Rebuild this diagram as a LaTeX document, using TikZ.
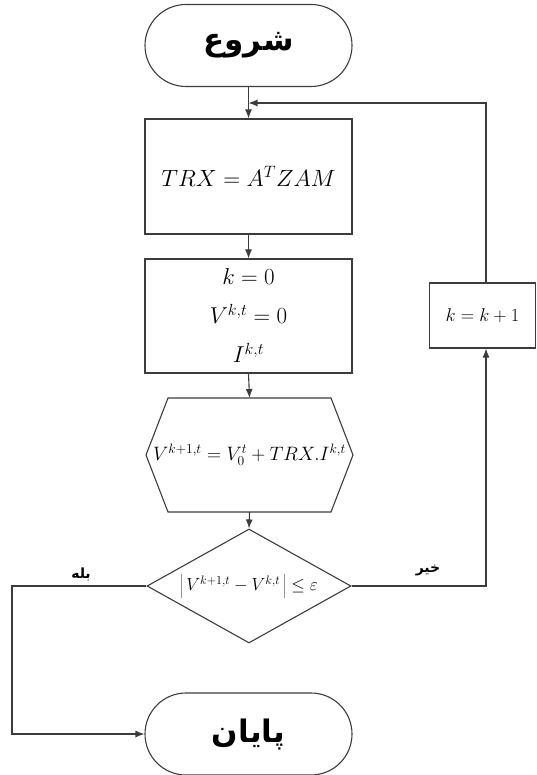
\RequirePackage{fix-cm}
\documentclass[tikz,border=0pt]{standalone}
\usepackage{fontspec}
\usetikzlibrary{shapes.misc,shapes.geometric,arrows.meta,calc}
\TeXXeTstate=1
\newfontfamily\arabicfont[Script=Arabic]{DejaVu Sans}
\definecolor{lc}{HTML}{3C3C3C}
\begin{document}
\begin{tikzpicture}[x=1pt,y=-1pt,line width=1.1pt,
  term/.style={rounded rectangle,draw=lc,minimum width=207pt,minimum height=82pt,inner sep=0pt,
    font=\arabicfont\bfseries\fontsize{31}{31}\selectfont},
  proc/.style={rectangle,draw=lc,inner sep=0pt},
  lbl/.style={font=\arabicfont\bfseries\fontsize{14}{14}\selectfont,inner sep=0pt},
  arr/.style={draw=lc,-{Latex[length=9pt,width=7pt]}}]
\useasboundingbox (0,0) rectangle (536,775);
% nodes
\node[term] (start) at (248.5,45.5) {\beginR شروع\endR};
\node[proc,minimum width=207pt,minimum height=115pt,font=\fontsize{23.5}{23.5}\selectfont] (trx) at (248.5,176.5) {$TRX = A^{T} ZAM$};
\node[proc,minimum width=207pt,minimum height=114pt,align=center,font=\fontsize{23}{39}\selectfont] (init) at (248.5,316) {$k=0$\\$V^{k,t}=0$\\$I^{k,t}$};
\node[inner sep=0pt,font=\fontsize{19.4}{19.4}\selectfont] (hex) at (249.5,455) {$V^{k+1,t} = V_0^t + TRX.I^{k,t}$};
\draw[lc] ($(hex)+(-81.5,-57)$) -- ($(hex)+(81.5,-57)$) -- ($(hex)+(103.5,0)$) -- ($(hex)+(81.5,57)$) -- ($(hex)+(-81.5,57)$) -- ($(hex)+(-103.5,0)$) -- cycle;
\coordinate (hextop) at ($(hex)+(0,-57)$);
\coordinate (hexbot) at ($(hex)+(0,57)$);
\node[diamond,draw=lc,aspect=1.79,minimum width=204pt,minimum height=114pt,inner sep=0pt,font=\fontsize{17.5}{17.5}\selectfont] (dec) at (249,586) {$\left|\,V^{k+1,t} - V^{k,t}\,\right| \le \varepsilon$};
\node[term] (stop) at (248.5,734) {\beginR پایان\endR};
\node[proc,minimum width=106pt,minimum height=65pt,font=\fontsize{18.5}{18.5}\selectfont] (kbox) at (482.5,315.5) {$k=k+1$};
\node[lbl] (yes) at (81,574) {\beginR بله\endR};
\node[lbl] (no) at (428,570) {\beginR خیر\endR};
% connectors
\coordinate (ktop) at (486,103);
\coordinate (nr) at (486,586);
\coordinate (yl) at (12,586);
\draw[arr] (start.south) -- (trx.north);
\draw[arr] (trx.south) -- (init.north);
\draw[arr] (init.south) -- (hextop);
\draw[arr] (hexbot) -- (dec.north);
\draw[arr] (dec.east) -- (nr) -- (nr |- kbox.south);
\draw[arr] (ktop |- kbox.north) -- (ktop) -- (start.south |- ktop);
\draw[arr] (dec.west) -- (yl) -- (yl |- stop.west) -- (stop.west);
\end{tikzpicture}
\end{document}
